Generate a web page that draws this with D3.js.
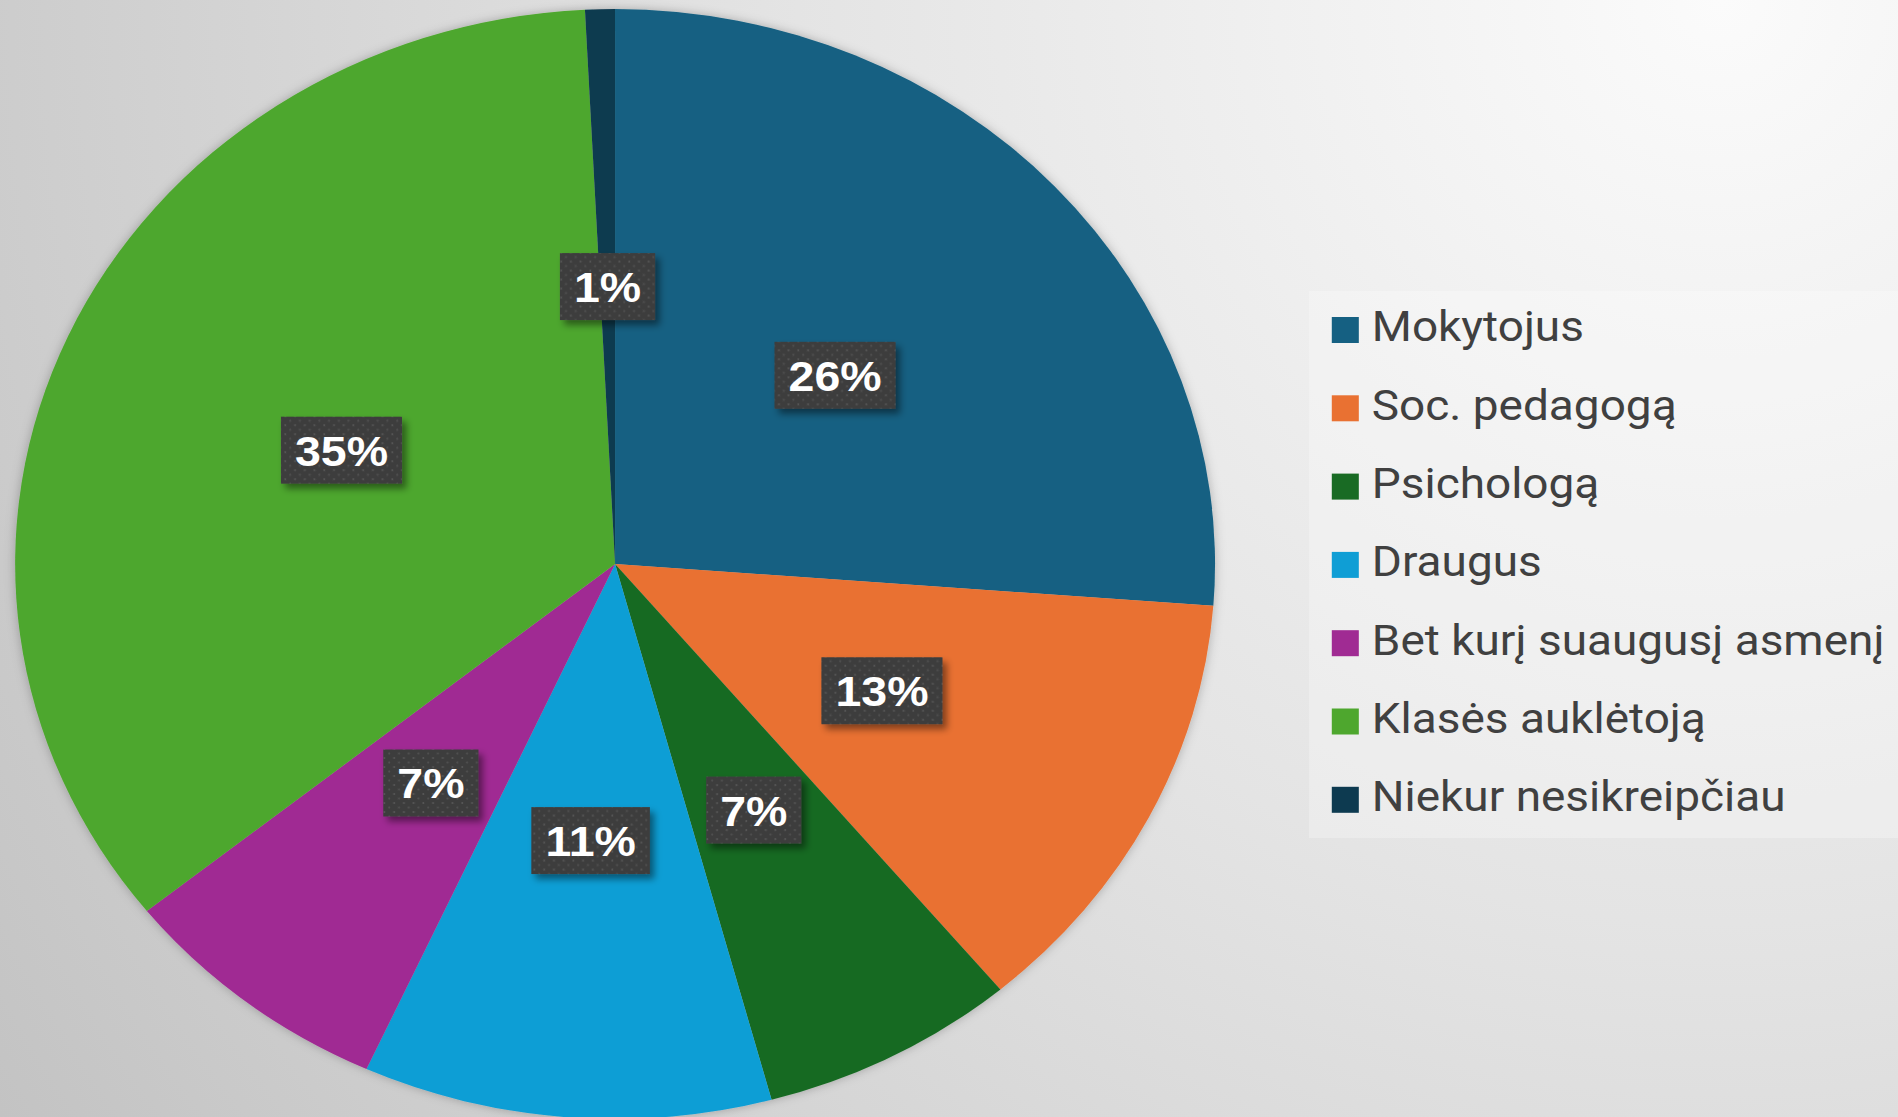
<!DOCTYPE html>
<html>
<head>
<meta charset="utf-8">
<script src="https://cdn.jsdelivr.net/npm/d3@7"></script>
<style>
  html, body { margin: 0; padding: 0; overflow: hidden; background: #d8d8d8; }
</style>
</head>
<body>
<svg id="chart"></svg>
<script>
// data (shares in %)
var categories = ["Mokytojus", "Soc. pedagogą", "Psichologą", "Draugus",
                  "Bet kurį suaugusį asmenį", "Klasės auklėtoją", "Niekur nesikreipčiau"];
var shares = [26.2, 12.7, 6.9, 11.0, 7.45, 34.95, 0.8];
var colors = ["#156082", "#e97132", "#196b24", "#0f9ed5", "#a02b93", "#4ea72e", "#0d3a50"];

var svgWidth = 1898, svgHeight = 1117;
var stretch = 1.081;           // the whole picture is a bit wider than tall
var cx = 569, cy = 564, radius = 555;

var svg = d3.select("#chart")
    .attr("width", svgWidth)
    .attr("height", svgHeight);

var defs = svg.append("defs");

var bg = defs.append("radialGradient")
    .attr("id", "bg")
    .attr("gradientUnits", "userSpaceOnUse")
    .attr("cx", 1720).attr("cy", 0).attr("r", 2050);
bg.append("stop").attr("offset", "0").attr("stop-color", "#fbfbfb");
bg.append("stop").attr("offset", "0.45").attr("stop-color", "#e4e4e4");
bg.append("stop").attr("offset", "1").attr("stop-color", "#c3c3c3");

var dots = defs.append("pattern")
    .attr("id", "dots")
    .attr("patternUnits", "userSpaceOnUse")
    .attr("width", 9).attr("height", 9);
dots.append("rect").attr("width", 9).attr("height", 9).attr("fill", "#3e3e3e");
dots.append("circle").attr("cx", 2).attr("cy", 2).attr("r", 0.9).attr("fill", "#575757");
dots.append("circle").attr("cx", 6.5).attr("cy", 6.5).attr("r", 0.9).attr("fill", "#515151");

var shadow = defs.append("filter").attr("id", "boxShadow")
    .attr("x", "-20%").attr("y", "-20%").attr("width", "150%").attr("height", "160%");
shadow.append("feDropShadow")
    .attr("dx", 4).attr("dy", 5).attr("stdDeviation", 3.5)
    .attr("flood-color", "#000").attr("flood-opacity", 0.45);

var pieShadow = defs.append("filter").attr("id", "pieShadow")
    .attr("x", "-5%").attr("y", "-5%").attr("width", "110%").attr("height", "110%");
pieShadow.append("feDropShadow")
    .attr("dx", 0).attr("dy", 0).attr("stdDeviation", 5)
    .attr("flood-color", "#000").attr("flood-opacity", 0.25);

svg.append("rect")
    .attr("width", svgWidth).attr("height", svgHeight)
    .attr("fill", "url(#bg)");

var g = svg.append("g").attr("transform", "scale(" + stretch + ",1)");

var pie = d3.pie().sort(null).value(function(d) { return d; });
var arcs = pie(shares);
var arc = d3.arc().innerRadius(0).outerRadius(radius);

var pieG = g.append("g")
    .attr("transform", "translate(" + cx + "," + cy + ")")
    .attr("filter", "url(#pieShadow)");

pieG.selectAll("path")
    .data(arcs)
    .enter().append("path")
    .attr("d", arc)
    .attr("fill", function(d, i) { return colors[i]; });

// data labels on dark dotted boxes
var labelG = g.append("g")
    .attr("transform", "translate(" + cx + "," + cy + ")");

var labels = labelG.selectAll("g.lbl")
    .data(arcs)
    .enter().append("g")
    .attr("class", "lbl")
    .attr("transform", function(d) { return "translate(" + arc.centroid(d) + ")"; });

labels.each(function(d) {
  var sel = d3.select(this);
  var txt = sel.append("text")
      .attr("text-anchor", "middle")
      .attr("dy", "0.36em")
      .attr("fill", "#ffffff")
      .style("font-family", "'Liberation Sans', Arial, sans-serif")
      .style("font-weight", "bold")
      .style("font-size", "43px")
      .text(Math.round(d.value) + "%");
  var w = txt.node().getComputedTextLength() + 26;
  var h = 67;
  sel.insert("rect", "text")
      .attr("x", -w / 2).attr("y", -h / 2)
      .attr("width", w).attr("height", h)
      .attr("fill", "url(#dots)")
      .attr("filter", "url(#boxShadow)");
});

// legend
var legX = 1211, legY = 291, legW = 560, legH = 547;
var legend = g.append("g");
legend.append("rect")
    .attr("x", legX).attr("y", legY)
    .attr("width", legW).attr("height", legH)
    .attr("fill", "#ffffff").attr("fill-opacity", 0.28);

var item = legend.selectAll("g.item")
    .data(categories)
    .enter().append("g")
    .attr("class", "item")
    .attr("transform", function(d, i) { return "translate(" + (legX + 21) + "," + (legY + 39 + i * 78.3) + ")"; });

item.append("rect")
    .attr("x", 0).attr("y", -13)
    .attr("width", 25).attr("height", 26)
    .attr("fill", function(d, i) { return colors[i]; });

item.append("text")
    .attr("x", 37)
    .attr("dy", "0.27em")
    .attr("fill", "#404040")
    .style("font-family", "Roboto, 'Noto Sans', sans-serif")
    .style("font-size", "42.5px")
    .text(function(d) { return d; });
</script>
</body>
</html>
